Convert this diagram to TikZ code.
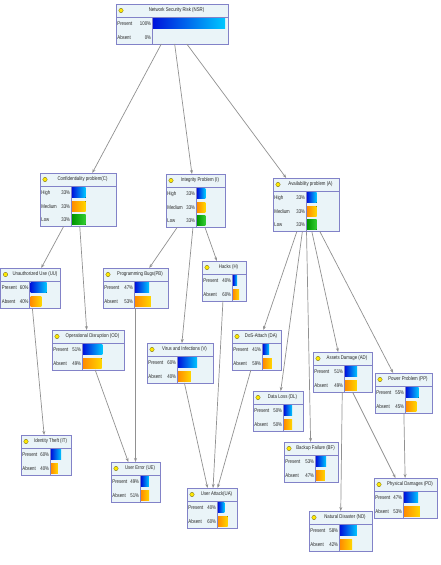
\documentclass[tikz,border=0pt]{standalone}
\usepackage{fontspec}
\setmainfont[FakeStretch=0.8]{Liberation Sans}
\usepackage{tikz}
\usetikzlibrary{arrows.meta, calc}

\definecolor{boxline}{RGB}{130,130,200}
\definecolor{boxfill}{RGB}{234,244,248}
\definecolor{linkgray}{RGB}{145,145,145}
\definecolor{blueL}{RGB}{0,20,220}
\definecolor{blueR}{RGB}{0,200,255}
\definecolor{orangeL}{RGB}{255,140,0}
\definecolor{orangeR}{RGB}{255,215,0}
\definecolor{greenL}{RGB}{0,150,0}
\definecolor{greenR}{RGB}{50,205,50}

\tikzset{
  bnbox/.style={draw=boxline, fill=boxfill, line width=0.9pt, inner sep=0pt, outer sep=0pt},
  bnline/.style={draw=boxline, line width=0.5pt},
  bnlamp/.style={fill=yellow!90!orange, draw=olive!70!black, line width=0.3pt},
  bntext/.style={inner sep=0pt, text=black!85, font=\fontsize{5.4}{6}\selectfont},
  link/.style={draw=linkgray, line width=0.7pt, -{Stealth[length=4pt,width=3pt]}},
  bluebar/.style={left color=blueL, right color=blueR},
  orangebar/.style={left color=orangeL, right color=orangeR},
  greenbar/.style={left color=greenL, right color=greenR}
}

% ノード: 名前, x, y, 幅, ラベル幅, 行数, 見出し, 状態
\newcommand{\bnnode}[8]{%
  \pgfmathsetmacro{\bnh}{13+13.5*#6}
  \node[bnbox, minimum width=#4pt, minimum height=\bnh pt, anchor=north west] (#1) at (#2,#3) {};
  \draw[bnline] ([yshift=-13]#1.north west) -- ([yshift=-13]#1.north east);
  \draw[bnline] ([xshift=#5,yshift=-13]#1.north west) -- ([xshift=#5]#1.south west);
  \filldraw[bnlamp] ([xshift=5,yshift=-6.5]#1.north west) circle (2.2pt);
  \node[bntext] at ([xshift={(#4+9)/2},yshift=-6.5]#1.north west) {#7};
  \foreach \st/\pc/\bcol [count=\i] in {#8} {
    \pgfmathsetmacro{\yc}{-13-13.5*(\i-0.5)}
    \pgfmathsetmacro{\bw}{\pc/100*(#4-#5-4)}
    \node[bntext, anchor=west] at ([xshift=1.2,yshift=\yc]#1.north west) {\st};
    \node[bntext, anchor=east] at ([xshift={#5-0.8},yshift=\yc]#1.north west) {\pc\%};
    \ifdim\pc pt>0pt
      \fill[\bcol] ([xshift={#5+1},yshift={\yc+5.2}]#1.north west) rectangle ++(\bw pt,-10.4pt);
    \fi
  }
}

\begin{document}
\begin{tikzpicture}[x=1pt,y=-1pt]
\useasboundingbox[fill=white] (0,0) rectangle (441,565);

% 根
\bnnode{NSR}{116}{4}{112}{36}{2}{Network Security Risk (NSR)}{Present/100/bluebar,Absent/0/orangebar}

% 第1層
\bnnode{C}{40}{173}{76}{31}{3}{Confidentiality problem(C)}{High/33/bluebar,Medium/33/orangebar,Low/33/greenbar}
\bnnode{I}{166}{174}{59}{30}{3}{Integrity Problem (I)}{High/33/bluebar,Medium/33/orangebar,Low/33/greenbar}
\bnnode{A}{273}{178}{66}{33}{3}{Availability problem (A)}{High/33/bluebar,Medium/33/orangebar,Low/33/greenbar}

% 第2層
\bnnode{UU}{0.5}{268}{60}{29}{2}{Unauthorized Use (UU)}{Present/60/bluebar,Absent/40/orangebar}
\bnnode{PB}{103}{268}{65}{31}{2}{Programming Bugs(PB)}{Present/47/bluebar,Absent/53/orangebar}
\bnnode{H}{202}{261}{44}{30}{2}{Hacks (H)}{Present/40/bluebar,Absent/60/orangebar}
\bnnode{OD}{52}{330}{72}{30}{2}{Operational Disruption (OD)}{Present/51/bluebar,Absent/49/orangebar}
\bnnode{V}{147}{343}{66}{30}{2}{Virus and Infections (V)}{Present/60/bluebar,Absent/40/orangebar}
\bnnode{DA}{232}{330}{49}{30}{2}{DoS-Attach (DA)}{Present/41/bluebar,Absent/59/orangebar}
\bnnode{AD}{313}{352}{59}{31}{2}{Assets Damage (AD)}{Present/51/bluebar,Absent/49/orangebar}
\bnnode{PP}{375}{373}{57}{30}{2}{Power Problem (PP)}{Present/55/bluebar,Absent/45/orangebar}
\bnnode{DL}{253}{391}{50}{30}{2}{Data Loss (DL)}{Present/50/bluebar,Absent/50/orangebar}
\bnnode{BF}{284}{442}{54}{31}{2}{Backup Failure (BF)}{Present/53/bluebar,Absent/47/orangebar}

% 第3層
\bnnode{IT}{21}{435}{50}{29}{2}{Identity Theft (IT)}{Present/60/bluebar,Absent/40/orangebar}
\bnnode{UE}{111}{462}{49}{29}{2}{User Error (UE)}{Present/49/bluebar,Absent/51/orangebar}
\bnnode{UA}{187}{488}{50}{30}{2}{User Attack(UA)}{Present/40/bluebar,Absent/60/orangebar}
\bnnode{ND}{309}{511}{63}{30}{2}{Natural Disaster (ND)}{Present/58/bluebar,Absent/42/orangebar}
\bnnode{PD}{374}{478}{63}{29}{2}{Physical Damages (PD)}{Present/47/bluebar,Absent/53/orangebar}

% 辺
\draw[link] (NSR) -- (C);
\draw[link] (NSR) -- (I);
\draw[link] (NSR) -- (A);
\draw[link] (C) -- (UU);
\draw[link] (C) -- (OD);
\draw[link] (I) -- (PB);
\draw[link] (I) -- (H);
\draw[link] (I) -- (V);
\draw[link] (A) -- (DA);
\draw[link] (A) -- (DL);
\draw[link] (A) -- (BF);
\draw[link] (A) -- (AD);
\draw[link] (A) -- (PP);
\draw[link] (UU) -- (IT);
\draw[link] (PB) -- (UE);
\draw[link] (OD) -- (UE);
\draw[link] (V) -- (UA);
\draw[link] (H) -- (UA);
\draw[link] (DA) -- (UA);
\draw[link] (AD) -- (ND);
\draw[link] (AD) -- (PD);
\draw[link] (PP) -- (PD);

\end{tikzpicture}
\end{document}
